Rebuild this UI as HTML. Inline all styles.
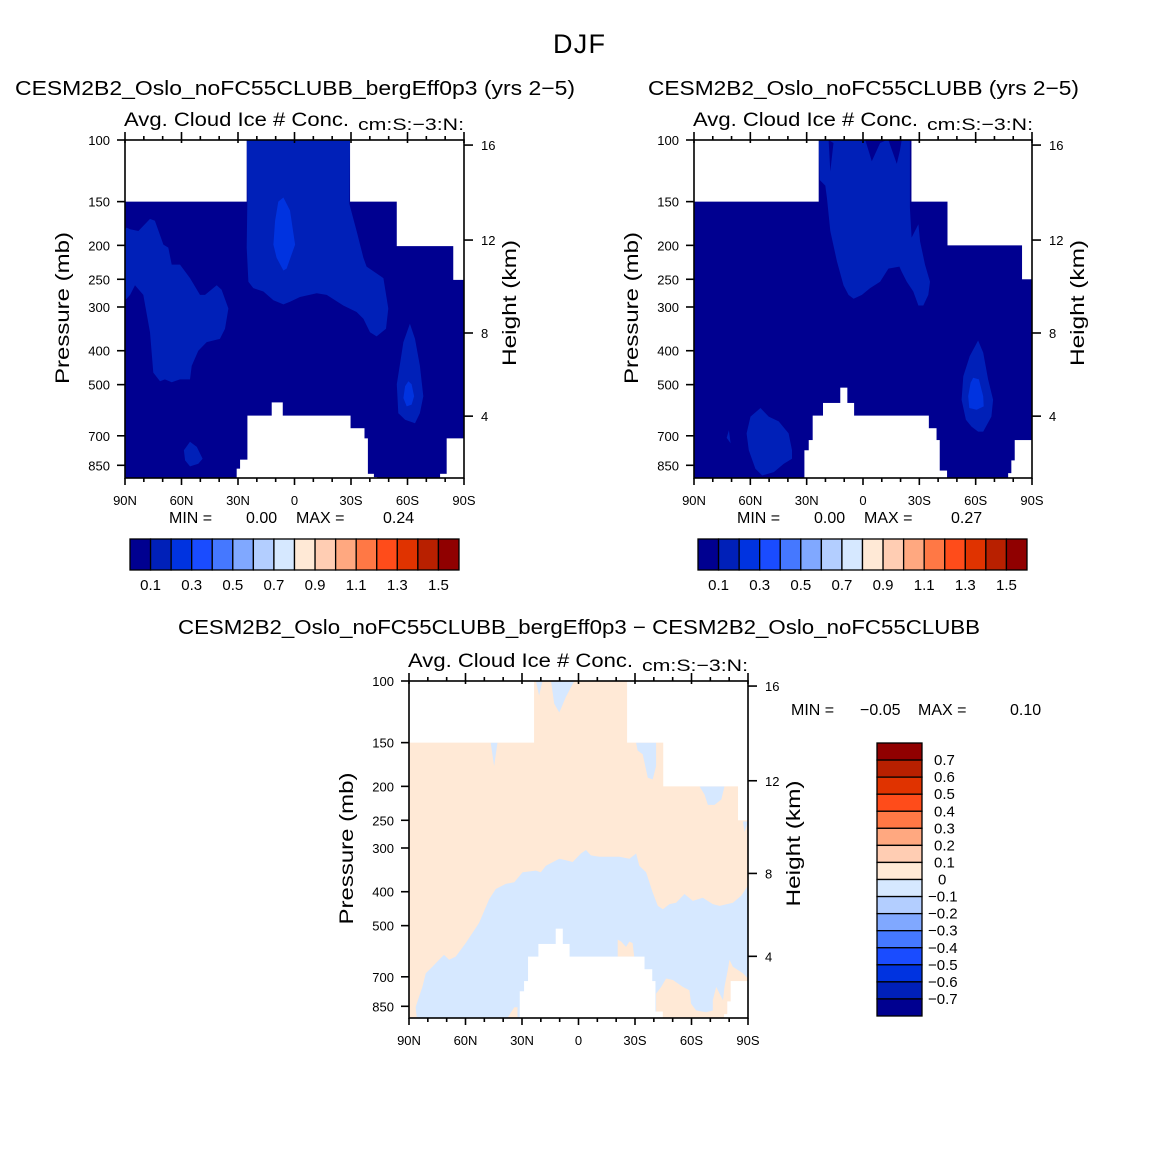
<!DOCTYPE html>
<html><head><meta charset="utf-8"><style>
html,body{margin:0;padding:0;background:#fff}
svg{display:block}
text{font-family:"Liberation Sans","DejaVu Sans",sans-serif;fill:#000}
</style></head><body>
<svg id="root" width="1158" height="1158" viewBox="0 0 1158 1158">
<text x="579" y="53" text-anchor="middle" font-size="27" textLength="52">DJF</text>

<text x="15" y="95" font-size="20" textLength="560" lengthAdjust="spacingAndGlyphs">CESM2B2_Oslo_noFC55CLUBB_bergEff0p3 (yrs 2−5)</text>
<text x="648" y="95" font-size="20" textLength="431" lengthAdjust="spacingAndGlyphs">CESM2B2_Oslo_noFC55CLUBB (yrs 2−5)</text>
<text x="178" y="634" font-size="20" textLength="802" lengthAdjust="spacingAndGlyphs">CESM2B2_Oslo_noFC55CLUBB_bergEff0p3 − CESM2B2_Oslo_noFC55CLUBB</text>

<g id="p1"></g>
<g id="p2"></g>
<g id="p3"></g>
<g id="cb"></g>
</svg>
<script>
// ---------- data ----------
const levelColors=["#000090","#0020b8","#0033e0","#1a4cff","#4578ff","#80a8ff","#b3ceff","#d6e8ff","#ffe9d6","#ffcdb3","#ffa880","#ff7845","#ff4c1a","#e03300","#b82000","#900000"];
const cbLabelsH=["0.1","0.3","0.5","0.7","0.9","1.1","1.3","1.5"];
const cbLabelsV=["0.7","0.6","0.5","0.4","0.3","0.2","0.1","0","−0.1","−0.2","−0.3","−0.4","−0.5","−0.6","−0.7"];
const latTicks=[90,60,30,0,-30,-60,-90];
const latTickLabels=["90N","60N","30N","0","30S","60S","90S"];
const presTicks=[100,150,200,250,300,400,500,700,850];
const heightTicks=[16,12,8,4];
const heightTickFrac=[0.015,0.296,0.571,0.817];
const stats1=["0.00","0.24"],stats2=["0.00","0.27"],stats3=["−0.05","0.10"];

// panel1 contour polygons [lat, p]
const p1A=[[25.4,100],[-29.5,100],[-29.1,152],[-33,182],[-36.6,217],[-38.3,230],[-47.2,248],[-49.8,303],[-48.6,346],[-43.6,364],[-40.1,354],[-36.6,324],[-33,310],[-25.9,297],[-17.1,277],[-11.8,274],[-2.9,281],[2.4,290],[5.9,295],[11.2,287],[16.5,271],[21.9,265],[24.5,254],[25.4,203],[25,146]];
const p1Ain=[[5.9,146],[2.4,159],[-0.3,199],[4.2,233],[5.9,236],[9.5,217],[11.2,199],[10.3,170],[8.6,150]];
const p1B=[[90,180],[89.1,178],[87.3,180],[82.9,182],[76.7,168],[74.1,170],[69.6,199],[67,203],[65.2,227],[60.8,227],[55.5,248],[50.2,277],[47.5,277],[41.3,260],[38.7,268],[35.1,303],[36.9,346],[39.6,370],[46.6,378],[51.1,400],[54.6,442],[55.5,483],[60.8,483],[65.2,492],[68.8,483],[71.4,489],[75,462],[76.7,354],[80.3,277],[84.7,260],[87.3,277],[89.1,284],[90,286]];
const p1C=[[-61.3,335],[-64,370],[-66.6,442],[-68.4,540],[-66.6,603],[-64,645],[-58.7,630],[-55.1,603],[-54.3,499],[-57.8,378]];
const p1Cin=[[-60.5,489],[-62.2,499],[-63.5,540],[-62.2,570],[-59.6,577],[-57.8,546],[-58.7,505]];
const p1D=[[55.5,728],[51.9,753],[48.8,814],[51.1,841],[55.5,856],[58.1,823],[58.7,770]];
// panel2
const p2A=[[23.6,100],[-25,100],[-25,156],[-25.9,190],[-29.5,174],[-30.4,195],[-33,227],[-35.7,254],[-34.8,277],[-32.1,297],[-29.5,297],[-26.8,271],[-23.3,254],[-20.6,238],[-19.4,230],[-13.5,233],[-9.1,254],[-3.8,265],[0.6,277],[5,284],[7.7,277],[10.4,260],[13.9,222],[17.4,182],[19.2,146],[20.1,135],[23.1,130]];
const p2N1=[[18.3,100],[17.4,123],[15.7,102]];
const p2N2=[[-1.2,100],[-4.7,115],[-9.1,102],[-12.7,100]];
const p2N3=[[-13.5,100],[-18,117],[-19.7,107],[-20.6,100]];
const p2B=[[54.6,583],[50.2,617],[44.9,637],[39.6,689],[37.8,770],[37.8,814],[42.2,841],[47.5,889],[53.7,909],[57.3,870],[60.8,770],[62,689],[59.9,617]];
const p2T=[[71.4,675],[70.5,735],[72.6,710]];
const p2C=[[-61.3,374],[-64,405],[-66.6,483],[-69.3,552],[-68.4,617],[-64,681],[-61.3,681],[-57.8,659],[-54.8,630],[-52.5,552],[-53.4,473],[-56.9,414]];
const p2Cin=[[-58.7,478],[-61.7,483],[-64,540],[-64.3,577],[-60.5,590],[-56.6,583],[-56,540],[-57.3,494]];
// panel3 (difference)
const p3Blue=[[85.6,944],[86.5,855],[84.7,799],[82.9,748],[81.1,684],[77.6,655],[74,626],[71.4,606],[68.7,626],[65.2,613],[59.9,561],[52.8,491],[47.4,420],[43.9,393],[38.6,380],[34.1,376],[29.7,352],[22.6,348],[20,352],[17.3,337],[10.2,322],[6.7,325],[3.1,329],[-1.3,311],[-4,304],[-6.6,315],[-11.1,318],[-16.4,318],[-21.7,318],[-27,322],[-30.6,311],[-32.3,337],[-35.9,352],[-39.4,402],[-42.1,439],[-44.8,449],[-48.3,434],[-51.8,430],[-56.3,406],[-60.7,425],[-66,416],[-71.3,434],[-74.9,439],[-82,430],[-86.4,411],[-90,384],[-90,708],[-87.3,684],[-82,655],[-80.2,626],[-79.3,669],[-77.5,748],[-76.7,817],[-74.9,782],[-73.1,748],[-71.3,817],[-71.3,874],[-67.8,884],[-62.5,874],[-59.8,836],[-58.9,765],[-55.4,748],[-50.1,715],[-46.5,708],[-43.9,748],[-41.2,782],[-41.2,1000],[32.4,1000],[32.4,855],[34.1,855],[38.6,934]];
const p3P1=[[22.6,100],[20.9,110],[19.1,100]];
const p3P2=[[14.6,100],[12.9,116],[10.2,123],[6.7,111],[3.1,102],[2.2,100]];
const p3P3=[[46.6,150],[44.8,175],[43,150]];
const p3P4=[[-30.6,150],[-31.4,158],[-34.1,162],[-36.8,189],[-39.4,191],[-41.2,175],[-41.2,150]];
const p3P5=[[-64.3,200],[-66.9,211],[-68.7,226],[-72.2,226],[-75.8,218],[-77.5,200]];
const p3P6=[[-87.3,252],[-88.2,270],[-90,252]];
const p3Q1=[[-20.8,548],[-22.6,555],[-25.2,575],[-27,555],[-28.7,561],[-29.6,613],[-20.8,613]];
// missing-data masks: [latFrom, latTo, pressure]
const topMaskA=[[90,25.4,150],[-29.5,-90,150],[-54.3,-90,201],[-84.3,-90,251]];
const topMaskB=[[90,23.6,150],[-25.8,-90,150],[-45,-90,200],[-84.7,-90,250]];
const topoA=[[30.7,28.9,869],[28.9,25,819],[25,12.1,613],[12.1,6.5,562],[6.5,-29.5,613],[-29.5,-36.9,666],[-36.9,-38.7,712],[-38.7,-41.9,899],[-41.9,-43.6,919],[-80.8,-90,712],[-77.3,-80.8,899]];
const topoB=[[33,31.2,922],[31.2,28.9,770],[28.9,26.8,720],[26.8,21.3,613],[21.3,12.1,564],[12.1,8.6,510],[8.6,5,564],[5,-34.8,613],[-34.8,-38.9,666],[-38.9,-40.6,720],[-40.6,-44.5,880],[-80.8,-90,720],[-79,-80.8,823],[-77.3,-79,895]];

// ---------- drawing ----------
const NS="http://www.w3.org/2000/svg";
function mk(tag,attrs,parent){const e=document.createElementNS(NS,tag);for(const k in attrs)e.setAttribute(k,attrs[k]);parent.appendChild(e);return e;}
function txt(s,attrs,parent){const e=mk("text",attrs,parent);e.textContent=s;return e;}

function drawPanel(id,cfg){
  const g=document.getElementById(id);
  const {x0,y0,w,h}=cfg;
  const X=lat=>x0+(90-lat)/180*w;
  const Y=p=>Math.min(y0+h+20,y0+350*Math.log10(p/100));
  const clip=mk("clipPath",{id:id+"clip"},g);
  mk("rect",{x:x0,y:y0,width:w,height:h},clip);
  const plot=mk("g",{"clip-path":"url(#"+id+"clip)"},g);
  
  
  const bg=mk("rect",{x:x0,y:y0,width:w,height:h,fill:cfg.base},plot);
  
  
  cfg.fills.forEach(f=>{
    const pts=f.pts.map(d=>X(d[0]).toFixed(1)+","+Y(d[1]).toFixed(1)).join(" ");
    const pg=mk("polygon",{points:pts,fill:f.color},plot);
    
    
  });
  cfg.mask.forEach(m=>{
    const r=mk("rect",{x:X(m[0]),y:y0,width:X(m[1])-X(m[0]),height:Y(m[2])-y0,fill:"#fff"},plot);
    
    
  });
  cfg.topo.forEach(m=>{
    const r=mk("rect",{x:X(m[0]),y:Y(m[2]),width:X(m[1])-X(m[0])+0.5,height:y0+h-Y(m[2])+2,fill:"#fff"},plot);
    
    
  });
  const ax=mk("g",{stroke:"#000","stroke-width":1.6,fill:"none"},g);
  
  
  mk("rect",{x:x0,y:y0,width:w,height:h},ax);
  for(let lat=90;lat>=-90;lat-=10){
    const major=lat%30===0, x=X(lat);
    mk("line",{x1:x,x2:x,y1:y0-(major?8:4),y2:y0+(major?3:0)},ax);
    mk("line",{x1:x,x2:x,y1:y0+h,y2:y0+h+(major?7:4)},ax);
  }
  latTicks.forEach((lat,i)=>{
    const t=txt(latTickLabels[i],{x:X(lat),y:y0+h+27,"font-size":13,"text-anchor":"middle"},g);
    
    
  });
  presTicks.forEach(p=>{
    const y=Y(p);
    mk("line",{x1:x0-8,x2:x0,y1:y,y2:y},ax);
    const t=txt(String(p),{x:x0-15,y:y+5,"font-size":13,"text-anchor":"end"},g);
    
    
  });
  heightTicks.forEach((km,i)=>{
    const y=y0+heightTickFrac[i]*h;
    mk("line",{x1:x0+w,x2:x0+w+9,y1:y,y2:y},ax);
    const t=txt(String(km),{x:x0+w+17,y:y+5,"font-size":13},g);
    
    
  });
  let t=txt("Avg. Cloud Ice # Conc.",{x:x0-1,y:y0-14,"font-size":19,textLength:225,lengthAdjust:"spacingAndGlyphs"},g);
  
  
  t=txt("cm:S:−3:N:",{x:x0+233,y:y0-10,"font-size":17,textLength:106,lengthAdjust:"spacingAndGlyphs"},g);
  
  
  const cy=y0+h/2;
  t=txt("Pressure (mb)",{x:x0-55,y:cy,"font-size":19,"text-anchor":"middle",transform:`rotate(-90 ${x0-56} ${cy})`,textLength:152,lengthAdjust:"spacingAndGlyphs"},g);
  
  
  t=txt("Height (km)",{x:x0+w+58,y:cy,"font-size":19,"text-anchor":"middle",transform:`rotate(-90 ${x0+w+52} ${cy})`,textLength:126,lengthAdjust:"spacingAndGlyphs"},g);
  
  
  const s=cfg.stats,sx=cfg.statX,sy=cfg.statY;
  [["MIN =",0],[s[0],cfg.statMinOff],["MAX =",127],[s[1],cfg.statMaxOff]].forEach(a=>{
    const tt=txt(a[0],{x:sx+a[1],y:sy,"font-size":16},g);
    
    
  });
}

drawPanel("p1",{x0:125,y0:140,w:339,h:338,base:levelColors[0],stats:stats1,statX:169,statY:523,statMinOff:77,statMaxOff:214,
  fills:[{pts:p1A,color:levelColors[1]},{pts:p1Ain,color:levelColors[2]},{pts:p1B,color:levelColors[1]},{pts:p1C,color:levelColors[1]},{pts:p1Cin,color:levelColors[2]},{pts:p1D,color:levelColors[1]}],
  mask:topMaskA,topo:topoA});
drawPanel("p2",{x0:694,y0:140,w:338,h:338,base:levelColors[0],stats:stats2,statX:737,statY:523,statMinOff:77,statMaxOff:214,
  fills:[{pts:p2A,color:levelColors[1]},{pts:p2N1,color:levelColors[0]},{pts:p2N2,color:levelColors[0]},{pts:p2N3,color:levelColors[0]},{pts:p2B,color:levelColors[1]},{pts:p2T,color:levelColors[1]},{pts:p2C,color:levelColors[1]},{pts:p2Cin,color:levelColors[2]}],
  mask:topMaskB,topo:topoB});
drawPanel("p3",{x0:409,y0:681,w:339,h:337,base:levelColors[8],stats:stats3,statX:791,statY:715,statMinOff:69,statMaxOff:219,
  fills:[{pts:p3Blue,color:levelColors[7]},{pts:p3P1,color:levelColors[7]},{pts:p3P2,color:levelColors[7]},{pts:p3P3,color:levelColors[7]},{pts:p3P4,color:levelColors[7]},{pts:p3P5,color:levelColors[7]},{pts:p3P6,color:levelColors[7]},{pts:p3Q1,color:levelColors[8]}],
  mask:topMaskB,topo:topoB});

// colorbars
const cb=document.getElementById("cb");
[[130,539],[698,539]].forEach(([cx,cy],k)=>{
  const bw=329/levelColors.length;
  levelColors.forEach((c,i)=>{
    const r=mk("rect",{x:cx+i*bw,y:cy,width:bw,height:31,fill:c,stroke:"#000","stroke-width":1.3},cb);
    
    
  });
  cbLabelsH.forEach((l,i)=>{
    const t=txt(l,{x:cx+(1+2*i)*bw,y:cy+51,"font-size":15,"text-anchor":"middle"},cb);
    
    
  });
});
(function(){
  const cx=877,cy=743,bh=273/levelColors.length;
  levelColors.slice().reverse().forEach((c,i)=>{
    const r=mk("rect",{x:cx,y:cy+i*bh,width:45,height:bh,fill:c,stroke:"#000","stroke-width":1.3},cb);
    
    
  });
  cbLabelsV.forEach((l,i)=>{
    const t=txt(l,{x:l.startsWith("−")?928:(l==="0"?938:934),y:cy+(i+1)*bh+5,"font-size":15},cb);
    
    
  });
})();
</script>
</body></html>
